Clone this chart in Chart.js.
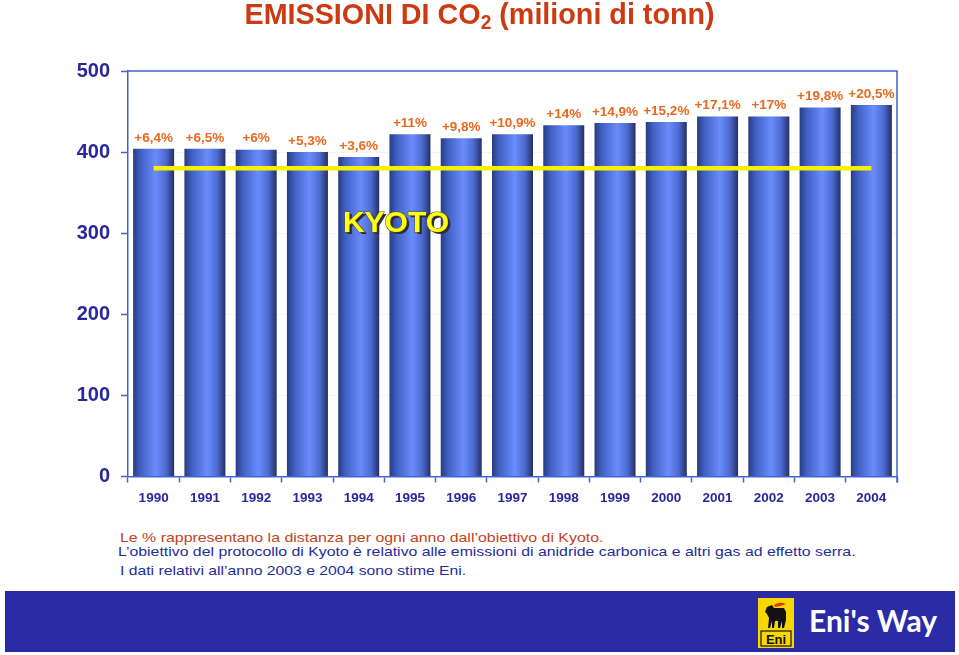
<!DOCTYPE html>
<html>
<head>
<meta charset="utf-8">
<script src="https://cdn.jsdelivr.net/npm/chart.js"></script>
<style>
    body { margin: 0; background: #fff; }
    #page { position: relative; width: 959px; height: 655px; overflow: hidden; font-family: 'Liberation Sans', Arial, sans-serif; }
    #title { position: absolute; top: -1px; left: 0; width: 959px; text-align: center; }
    #title span { display: inline-block; color: #cc3a12; white-space: nowrap;
                  font: bold 30px/29px 'Liberation Sans Narrow', 'Liberation Sans', sans-serif; }
    #title sub { font-size: 20px; vertical-align: -5px; line-height: 0; }
    #chartBox { position: absolute; top: 0; left: 0; width: 959px; height: 525px; }
    .note { position: absolute; font: 13.5px/13px 'Liberation Sans', sans-serif; white-space: nowrap; transform-origin: left top; }
    #band { position: absolute; left: 5px; top: 591px; width: 950px; height: 61px; background: #2b2ba5; }
    #logo { position: absolute; left: 758px; top: 598px; width: 36px; height: 50px; }
    #brand { position: absolute; left: 809px; top: 602px; color: #fff; font: bold 30px 'Lato', sans-serif; }
</style>
</head>
<body>
<div id="page">
    <div id="chartBox"><canvas id="co2Chart"></canvas></div>
    <div id="title"><span data-fit="470">EMISSIONI DI CO<sub>2</sub> (milioni di tonn)</span></div>

    <div class="note" data-fit="484" style="left:120px; top:531px; color:#c4411c;">Le % rappresentano la distanza per ogni anno dall’obiettivo di Kyoto.</div>
    <div class="note" data-fit="738" style="left:118px; top:545px; color:#1f2c9c;">L’obiettivo del protocollo di Kyoto è relativo alle emissioni di anidride carbonica e altri gas ad effetto serra.</div>
    <div class="note" data-fit="346" style="left:120px; top:564px; color:#1f2c9c;">I dati relativi all’anno 2003 e 2004 sono stime Eni.</div>

    <div id="band"></div>
    <svg id="logo" viewBox="0 0 36 50">
        <rect x="0" y="0" width="36" height="50" fill="#f6d800"/>
        <!-- cane a sei zampe, molto semplificato -->
        <path d="M9 9 L14 7 L16 10 L26 10 L28 14 L28 22 L26 30 L24 30 L24 23 L22 30 L20 30 L20 23 L17 23 L16 30 L14 30 L14 23 L12 30 L10 30 L11 20 L9 16 L7 14 Z" fill="#111"/>
        <path d="M16 7 Q22 3 28 6 Q23 8 17 9 Z" fill="#e03010"/>
        <rect x="3" y="33" width="30" height="15" fill="none" stroke="#111" stroke-width="1.2"/>
        <text x="18" y="46" text-anchor="middle" font-family="Liberation Sans" font-weight="bold" font-size="13" fill="#111">Eni</text>
    </svg>
    <div id="brand">Eni's Way</div>
</div>

<script>
// dati
const years = ['1990', '1991', '1992', '1993', '1994', '1995', '1996', '1997',
               '1998', '1999', '2000', '2001', '2002', '2003', '2004'];
const emissions = [404, 404, 403, 400, 394, 422, 417, 422, 433, 436, 437, 444, 444, 455, 458];
const kyotoTarget = [380, 380, 380, 380, 380, 380, 380, 380, 380, 380, 380, 380, 380, 380, 380];
const distanceLabels = ['+6,4%', '+6,5%', '+6%', '+5,3%', '+3,6%', '+11%', '+9,8%', '+10,9%',
                        '+14%', '+14,9%', '+15,2%', '+17,1%', '+17%', '+19,8%', '+20,5%'];
const yTicks = [0, 100, 200, 300, 400, 500];

const axisBlue = '#4462cc';
const tickBlue = '#28289c';

// adatta la larghezza dei testi a quella dell'originale
document.querySelectorAll('[data-fit]').forEach(el => {
    const target = parseFloat(el.dataset.fit);
    el.style.transform = `scaleX(${target / el.offsetWidth})`;
    if (el.tagName === 'SPAN') el.style.transformOrigin = 'center top';
});

// gradiente "cilindro" per ogni barra
function barGradient(ctx) {
    const chart = ctx.chart;
    if (!chart.chartArea) return '#4f72e6';
    const xScale = chart.scales.x;
    const center = xScale.getPixelForValue(ctx.dataIndex);
    const w = xScale.width / years.length * 0.8;
    const g = chart.ctx.createLinearGradient(center - w / 2, 0, center + w / 2, 0);
    g.addColorStop(0, '#283c84');
    g.addColorStop(0.18, '#4060c2');
    g.addColorStop(0.55, '#6a8cfc');
    g.addColorStop(0.8, '#4c6ad0');
    g.addColorStop(1, '#243064');
    return g;
}

const extrasPlugin = {
    id: 'extras',
    afterDatasetsDraw(chart) {
        const ctx = chart.ctx;
        const area = chart.chartArea;
        const meta = chart.getDatasetMeta(1);

        // percentuali sopra le barre
        ctx.save();
        ctx.font = 'bold 13.5px "Liberation Sans", Arial, sans-serif';
        ctx.fillStyle = '#e8681e';
        ctx.textAlign = 'center';
        ctx.textBaseline = 'middle';
        meta.data.forEach((bar, i) => {
            ctx.fillText(distanceLabels[i], bar.x, bar.y - 11);
        });

        // scritta KYOTO con ombra
        const kx = area.left + 268;
        const ky = chart.scales.y.getPixelForValue(312);
        ctx.font = 'bold 30px "Liberation Sans", Arial, sans-serif';
        ctx.fillStyle = '#2a2a3a';
        ctx.fillText('KYOTO', kx + 2.5, ky + 2.5);
        ctx.lineWidth = 1;
        ctx.strokeStyle = '#5a5a20';
        ctx.strokeText('KYOTO', kx, ky);
        ctx.fillStyle = '#ffff10';
        ctx.fillText('KYOTO', kx, ky);
        ctx.restore();
    },
    afterDraw(chart) {
        const ctx = chart.ctx;
        const area = chart.chartArea;
        ctx.save();
        ctx.strokeStyle = axisBlue;
        ctx.lineWidth = 1.5;
        ctx.beginPath();
        ctx.moveTo(area.left, area.top);
        ctx.lineTo(area.right, area.top);
        ctx.lineTo(area.right, area.bottom + 6);
        ctx.stroke();
        ctx.restore();
    }
};

new Chart(document.getElementById('co2Chart'), {
    data: {
        labels: years,
        datasets: [{
            type: 'line',
            label: 'Obiettivo Kyoto',
            data: kyotoTarget,
            borderColor: '#f8f000',
            borderWidth: 4.5,
            pointRadius: 0,
            order: 0
        }, {
            type: 'bar',
            label: 'Emissioni CO2',
            data: emissions,
            backgroundColor: barGradient,
            barPercentage: 0.8,
            categoryPercentage: 1,
            order: 1
        }]
    },
    options: {
        responsive: true,
        maintainAspectRatio: false,
        animation: false,
        layout: { padding: { top: 71, right: 62, left: 0, bottom: 0 } },
        plugins: {
            legend: { display: false },
            tooltip: { enabled: false }
        },
        scales: {
            x: {
                afterFit: (scale) => { scale.height = 48.5; },
                grid: {
                    offset: true,
                    drawOnChartArea: false,
                    tickLength: 6,
                    tickColor: axisBlue,
                    tickWidth: 1.5
                },
                border: { color: axisBlue, width: 1.5 },
                ticks: {
                    color: tickBlue,
                    padding: 8,
                    maxRotation: 0,
                    font: { family: 'Liberation Sans', weight: 'bold', size: 13.5 }
                }
            },
            y: {
                min: 0,
                max: 500,
                afterFit: (scale) => { scale.width = 128; },
                afterBuildTicks: (scale) => { scale.ticks = yTicks.map(v => ({ value: v })); },
                grid: {
                    color: (c) => c.tick && c.tick.value === 500 ? 'rgba(0,0,0,0)' : '#f4f4f7',
                    tickLength: 7,
                    tickColor: axisBlue,
                    tickWidth: 1.5
                },
                border: { color: axisBlue, width: 1.5 },
                ticks: {
                    color: tickBlue,
                    padding: 11,
                    font: { family: 'Liberation Sans', weight: 'bold', size: 20 }
                }
            }
        }
    },
    plugins: [extrasPlugin]
});
</script>
</body>
</html>
